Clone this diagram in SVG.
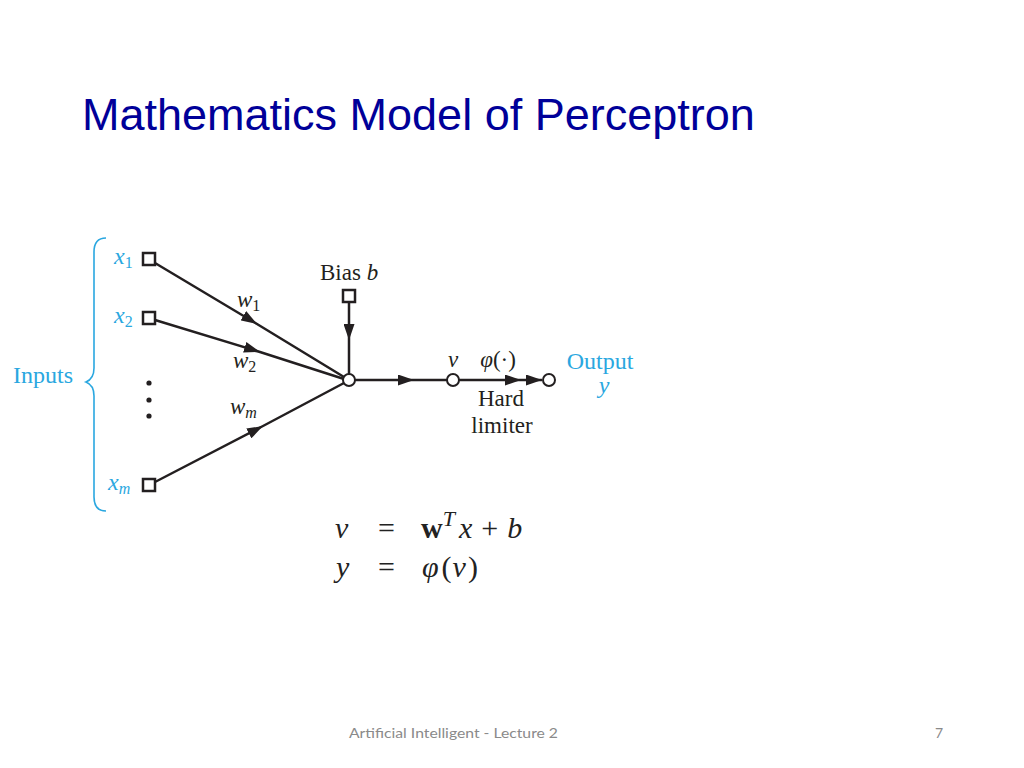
<svg xmlns="http://www.w3.org/2000/svg" width="1024" height="768" viewBox="0 0 1024 768">
<style>
.title{font-family:"Liberation Sans",Arial,sans-serif;font-size:45px;fill:#000099}
.foot{font-family:Lato,"Liberation Sans",sans-serif;font-size:14px;fill:#8a8a8a}
.lbl{font-family:"Liberation Serif","Times New Roman",serif;font-size:23px;fill:#231f20}
.blue{font-family:"Liberation Serif","Times New Roman",serif;font-size:24px;fill:#2aa7e0}
.it{font-style:italic}
.sub{font-size:16px}
.eq{font-family:"Liberation Serif","Times New Roman",serif;font-size:30px;fill:#222}
.ln{stroke:#231f20;stroke-width:2.5;fill:none}
.sq{stroke:#231f20;stroke-width:2.5;fill:#fff}
.node{stroke:#231f20;stroke-width:2;fill:#fff}
</style>
<defs>
<marker id="ah" viewBox="0 0 16 11" refX="16" refY="5.5" markerWidth="16" markerHeight="11" markerUnits="userSpaceOnUse" orient="auto">
<path d="M0,0 L16,5.5 L0,11 Z" fill="#231f20"/>
</marker>
</defs>
<rect width="1024" height="768" fill="#fff"/>
<text class="title" x="82" y="130">Mathematics Model of Perceptron</text>

<g id="connectors">
<path class="ln" d="M155,263 L257,324 L344,377" marker-mid="url(#ah)"/>
<path class="ln" d="M155,320 L260,352 L344,379" marker-mid="url(#ah)"/>
<path class="ln" d="M155,482 L263,426 L344,383" marker-mid="url(#ah)"/>
<path class="ln" d="M349,302 L349,340 L349,374" marker-mid="url(#ah)"/>
<path class="ln" d="M355,380 L414,380 L447,380" marker-mid="url(#ah)"/>
<path class="ln" d="M459,380 L521,380 L542,380" marker-mid="url(#ah)" marker-end="url(#ah)"/>
</g>

<g id="brace">
<path d="M106,238 C98,238 94,243 94,252 L94,368 C94,376 91,380 86,382 C91,384 94,388 94,396 L94,497 C94,506 98,511 106,511" fill="none" stroke="#2aa7e0" stroke-width="1.6"/>
<text class="blue" x="13" y="383">Inputs</text>
</g>

<g id="x1">
<rect class="sq" x="143" y="253" width="12" height="12"/>
<text class="blue it" x="114" y="264">x<tspan class="sub" font-style="normal" dy="4">1</tspan></text>
</g>
<g id="x2">
<rect class="sq" x="143" y="312" width="12" height="12"/>
<text class="blue it" x="114" y="323">x<tspan class="sub" font-style="normal" dy="4">2</tspan></text>
</g>
<g id="dots">
<circle cx="149" cy="383" r="2.6" fill="#231f20"/>
<circle cx="149" cy="400" r="2.6" fill="#231f20"/>
<circle cx="149" cy="416" r="2.6" fill="#231f20"/>
</g>
<g id="xm">
<rect class="sq" x="143" y="479" width="12" height="12"/>
<text class="blue it" x="108" y="490">x<tspan class="sub" dy="4">m</tspan></text>
</g>

<g id="weights">
<text class="lbl it" x="237" y="307">w<tspan class="sub" font-style="normal" dy="4">1</tspan></text>
<text class="lbl it" x="233" y="368">w<tspan class="sub" font-style="normal" dy="4">2</tspan></text>
<text class="lbl it" x="230" y="414">w<tspan class="sub" dy="4">m</tspan></text>
</g>

<g id="bias">
<rect class="sq" x="343" y="290" width="12" height="12"/>
<text class="lbl" x="320" y="280">Bias <tspan class="it">b</tspan></text>
</g>

<g id="sum">
<circle class="node" cx="349" cy="380" r="6"/>
</g>

<g id="v">
<circle class="node" cx="453" cy="380" r="6"/>
<text class="lbl it" x="453" y="367" text-anchor="middle">v</text>
<text class="lbl" x="498" y="367" text-anchor="middle"><tspan class="it">φ</tspan>(·)</text>
<text class="lbl" x="501" y="406" text-anchor="middle">Hard</text>
<text class="lbl" x="502" y="433" text-anchor="middle">limiter</text>
</g>

<g id="output">
<circle class="node" cx="549" cy="380" r="6"/>
<text class="blue" x="600" y="369" text-anchor="middle">Output</text>
<text class="blue it" x="604" y="393" text-anchor="middle">y</text>
</g>

<g id="equations">
<text class="eq it" x="335" y="538">v</text>
<text class="eq" x="378" y="538" font-size="32">=</text>
<text class="eq" x="421" y="538"><tspan font-weight="bold">w</tspan><tspan class="it" font-size="22" dy="-12">T</tspan><tspan class="it" dy="12" dx="4">x</tspan><tspan dx="9">+</tspan><tspan class="it" dx="9">b</tspan></text>
<text class="eq it" x="336" y="577">y</text>
<text class="eq" x="378" y="577" font-size="32">=</text>
<text class="eq" x="422" y="577"><tspan class="it">φ</tspan><tspan dx="3">(</tspan><tspan class="it" dx="1">v</tspan><tspan dx="2">)</tspan></text>
</g>

<text class="foot" x="349" y="738" textLength="209" lengthAdjust="spacingAndGlyphs">Artificial Intelligent - Lecture 2</text>
<text class="foot" x="935" y="738">7</text>
</svg>
